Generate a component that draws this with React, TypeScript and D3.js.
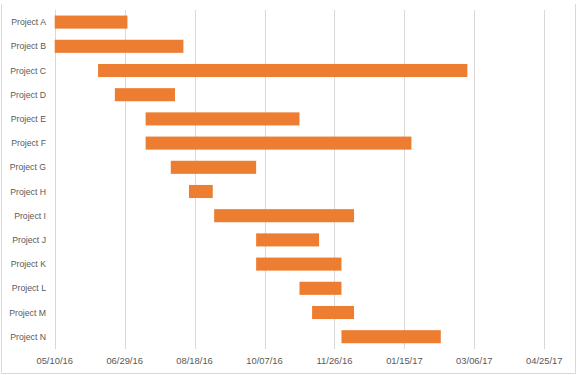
import React from "react";
import * as d3 from "d3";

const projects = ["Project A","Project B","Project C","Project D","Project E","Project F","Project G","Project H","Project I","Project J","Project K","Project L","Project M","Project N"];
const startDates = ["2016-05-10","2016-05-10","2016-06-10","2016-06-22","2016-07-14","2016-07-14","2016-08-01","2016-08-14","2016-09-01","2016-10-01","2016-10-01","2016-11-01","2016-11-10","2016-12-01"];
const endDates = ["2016-07-01","2016-08-10","2017-03-01","2016-08-04","2016-11-01","2017-01-20","2016-10-01","2016-08-31","2016-12-10","2016-11-15","2016-12-01","2016-12-01","2016-12-10","2017-02-10"];
const tickDates = ["2016-05-10","2016-06-29","2016-08-18","2016-10-07","2016-11-26","2017-01-15","2017-03-06","2017-04-25"];

const W = 579, H = 375;
const parse = (s: string) => new Date(s + "T00:00:00Z");
const fmt = d3.utcFormat("%m/%d/%y");

export default function App() {
  const x = d3.scaleUtc().domain([parse(tickDates[0]), parse(tickDates[tickDates.length - 1])]).range([54.7, 544.3]);
  const y = d3.scaleBand<string>().domain(projects).range([10, 348.8]).paddingInner(0.46).paddingOuter(0.23);
  const ticks = tickDates.map(parse);
  const textColor = "#595959";
  const font = "'Liberation Sans', Arial, sans-serif";
  return (
    <svg width={W} height={H} style={{ position: "absolute", left: 0, top: 0, background: "#fff" }}>
      {/* chart border */}
      <line x1={1.5} x2={1.5} y1={4} y2={373.5} stroke="#d9d9d9" />
      <line x1={1.5} x2={575.5} y1={373.5} y2={373.5} stroke="#d9d9d9" />
      <line x1={575.5} x2={575.5} y1={4} y2={373.5} stroke="#d9d9d9" />
      {ticks.map((t, i) => (
        <line key={"g" + i} x1={Math.round(x(t)) + 0.5} x2={Math.round(x(t)) + 0.5} y1={10} y2={349} stroke="#d9d9d9" strokeWidth={1} />
      ))}
      {projects.map((p, i) => (
        <rect key={p} x={x(parse(startDates[i]))} width={x(parse(endDates[i])) - x(parse(startDates[i]))}
          y={y(p)!} height={y.bandwidth()} fill="#ED7D31" />
      ))}
      {projects.map((p) => (
        <text key={"l" + p} x={46} y={y(p)! + y.bandwidth() / 2} dy="0.35em" textAnchor="end"
          fontFamily={font} fontSize={8.7} fill={textColor}>{p}</text>
      ))}
      {ticks.map((t, i) => (
        <text key={"t" + i} x={x(t)} y={361} dy="0.35em" textAnchor="middle"
          fontFamily={font} fontSize={9.4} fill={textColor}>{fmt(t)}</text>
      ))}
    </svg>
  );
}
